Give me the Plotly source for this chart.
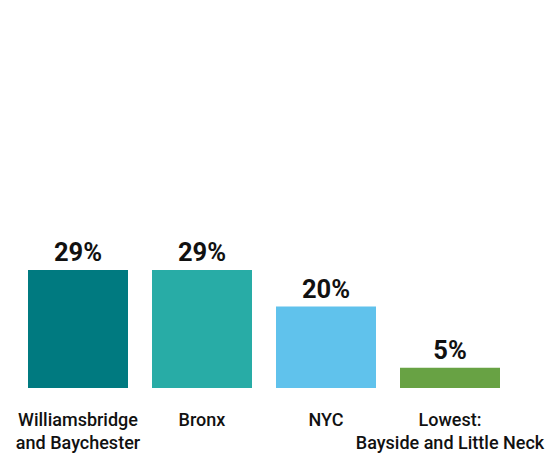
import plotly.graph_objects as go

categories = ["Williamsbridge<br>and Baychester", "Bronx", "NYC", "Lowest:<br>Bayside and Little Neck"]
values = [29, 29, 20, 5]
value_labels = ["29%", "29%", "20%", "5%"]
colors = ["#007a80", "#28aca6", "#60c2ec", "#68a244"]

fig = go.Figure(go.Bar(
    x=categories,
    y=values,
    marker=dict(color=colors, line=dict(width=0)),
    text=value_labels,
    textposition="outside",
    textfont=dict(family="Roboto", size=25.5, color="#111111", weight="bold"),
    cliponaxis=False,
    hoverinfo="skip",
))

# page body has an 8px default margin, so the figure is sized/offset to compensate
fig.update_layout(
    width=545, height=450,
    margin=dict(l=8, r=41, t=12, b=70, autoexpand=False),
    paper_bgcolor="white",
    plot_bgcolor="white",
    bargap=0.1935,
    showlegend=False,
    xaxis=dict(
        showgrid=False, zeroline=False, showline=False, automargin=False,
        ticks="outside", ticklen=0, tickcolor="white",
        ticklabelstandoff=15,
        tickfont=dict(family="Roboto", size=18, color="#111111", weight=500),
        range=[-0.5, 3.5],
    ),
    yaxis=dict(
        visible=False, automargin=False, range=[0, 368 / 4.07], showgrid=False, zeroline=False,
    ),
)

fig.write_html("out.html")
